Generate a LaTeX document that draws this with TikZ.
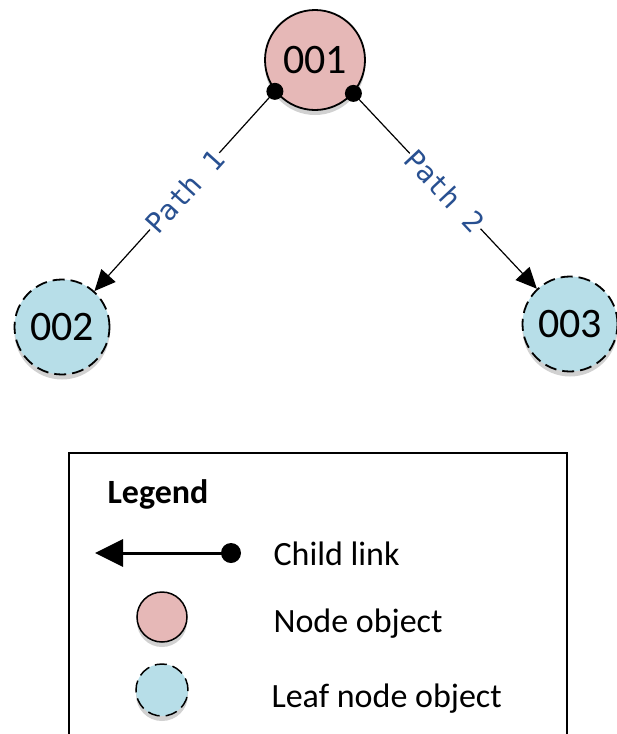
\documentclass[tikz,border=0pt]{standalone}
\usepackage{fontspec}
\setmainfont{Carlito}
\newfontfamily\pathfont{DejaVu Sans Mono}
\usetikzlibrary{positioning}
\usetikzlibrary{arrows.meta}
\usetikzlibrary{shadows}
\definecolor{nodepink}{RGB}{230,184,183}
\definecolor{leafblue}{RGB}{183,222,232}
\definecolor{pathblue}{RGB}{40,80,145}

\begin{document}
\begin{tikzpicture}
    [
    x=1pt,y=-1pt,
    obj/.style = {circle,draw=black,line width=1.8pt,fill=nodepink,minimum size=100pt,inner sep=0pt,font=\fontsize{42}{46}\selectfont,drop shadow={shadow xshift=0pt,shadow yshift=-5pt,opacity=0.3,fill=black!60}},
    leaf/.style = {obj,fill=leafblue,dash pattern=on 12pt off 6pt,minimum size=95pt},
    dot/.style = {minimum width=17pt,inner sep=0pt,line width=0pt,fill,circle,black},
    link/.style = {line width=1.2pt,-{Triangle[length=21pt,width=19pt]}},
    pathlbl/.style = {sloped,fill=white,inner sep=1pt,text=pathblue,font=\pathfont\fontsize{28}{30}\selectfont},
    txt/.style = {anchor=base west,font=\fontsize{34}{38}\selectfont}
    ]
\useasboundingbox (0,0) rectangle (617,734);

\node[obj] (n001) at (315,60) {001};
\node[leaf] (n002) at (62,327) {002};
\node[leaf] (n003) at (570,324) {003};

\draw[link] (n001.218) -- node[pathlbl]{Path~1} (n002);
\draw[link] (n001.319) -- node[pathlbl]{Path~2} (n003);
\node[dot] (d1) at (n001.218) {};
\node[dot] (d2) at (n001.319) {};

% legend
\draw[line width=1.5pt] (69,740) -- (69,453) -- (567,453) -- (567,740);
\node[anchor=base west,font=\bfseries\fontsize{34}{38}\selectfont] (legend) at (104,503) {Legend};
\node[dot,minimum width=20pt] (ldot) at (231,553) {};
\coordinate (ltip) at (95,553);
\draw[line width=3pt,-{Triangle[length=28pt,width=27pt]}] (ldot.center) -- (ltip);
\node[txt] (lchild) at (270,565) {Child link};
\node[obj,minimum size=50pt,line width=1.5pt] (lnode) at (162,617) {};
\node[txt] (lnodetxt) at (270,632) {Node object};
\node[leaf,minimum size=52pt,line width=1.5pt] (lleaf) at (162,690) {};
\node[txt] (lleaftxt) at (268,707) {Leaf node object};
\end{tikzpicture}
\end{document}
